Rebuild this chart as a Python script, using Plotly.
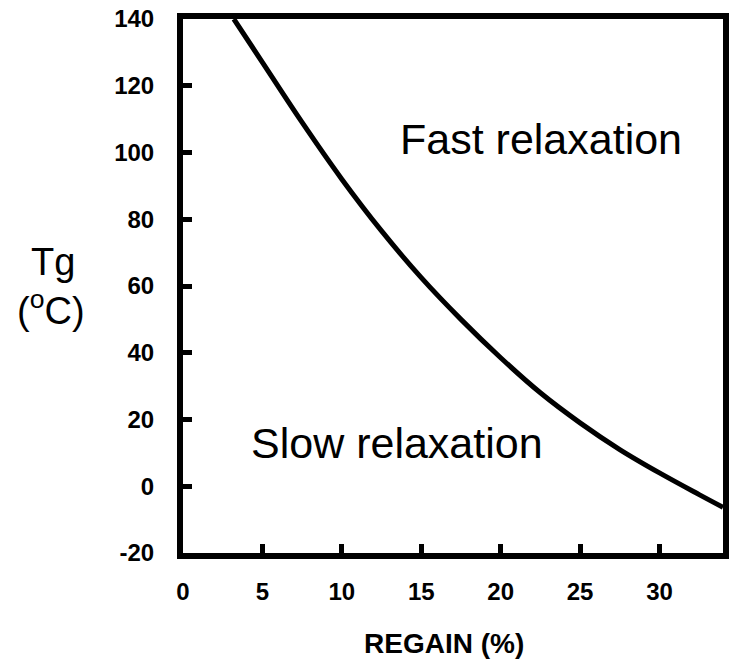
import plotly.graph_objects as go

regain = [3.2, 5, 7.5, 10, 12.5, 15, 17.5, 20, 22.5, 25, 27.5, 30, 32.5, 34]
tg = [140, 127, 109, 92, 76.5, 62.5, 50, 38.5, 28, 19, 11, 4, -2.5, -6.3]

x_ticks = [0, 5, 10, 15, 20, 25, 30]
y_ticks = [-20, 0, 20, 40, 60, 80, 100, 120, 140]

FONT = "Liberation Sans, Arial, sans-serif"

fig = go.Figure()
fig.add_trace(go.Scatter(
    x=regain, y=tg, mode="lines",
    line=dict(color="black", width=5, shape="spline", smoothing=1.0),
    showlegend=False, hoverinfo="skip", cliponaxis=True,
))

axis_common = dict(
    showline=True, linewidth=6, linecolor="black", mirror=True,
    ticks="inside", ticklen=9, tickwidth=5, tickcolor="black",
    showgrid=False, zeroline=False,
    tickfont=dict(family=FONT, size=24, color="black", weight="bold"),
)

fig.update_xaxes(range=[0, 34], tickvals=x_ticks, ticktext=[str(v) for v in x_ticks],
                 ticklabelstandoff=12, **axis_common)
fig.update_yaxes(range=[-20, 140], tickvals=y_ticks, ticktext=[str(v) for v in y_ticks],
                 ticklabelstandoff=18, **axis_common)

annotations = [
    dict(text="Fast relaxation", x=13.55, y=104, xref="x", yref="y",
         xanchor="left", yanchor="middle", showarrow=False,
         font=dict(family=FONT, size=43, color="black")),
    dict(text="Slow relaxation", x=4.15, y=13, xref="x", yref="y",
         xanchor="left", yanchor="middle", showarrow=False,
         font=dict(family=FONT, size=43, color="black")),
    dict(text="Tg", x=(52 - 183) / 546, y=(553 - 261) / 535, xref="paper", yref="paper",
         xanchor="center", yanchor="middle", showarrow=False,
         font=dict(family=FONT, size=38, color="black")),
    dict(text="(<sup>o</sup>C)", x=(50 - 183) / 546, y=(553 - 308) / 535, xref="paper", yref="paper",
         xanchor="center", yanchor="middle", showarrow=False,
         font=dict(family=FONT, size=38, color="black")),
    dict(text="REGAIN (%)", x=(447 - 183) / 546, y=(553 - 644) / 535, xref="paper", yref="paper",
         xanchor="center", yanchor="middle", showarrow=False,
         font=dict(family=FONT, size=28, color="black", weight="bold")),
]

fig.update_layout(
    width=734, height=663,
    margin=dict(l=183, r=5, t=18, b=110),
    plot_bgcolor="white", paper_bgcolor="white",
    annotations=annotations,
)

fig.write_html("out.html", config={"displayModeBar": False},
               post_script="document.body.style.margin='0';")
